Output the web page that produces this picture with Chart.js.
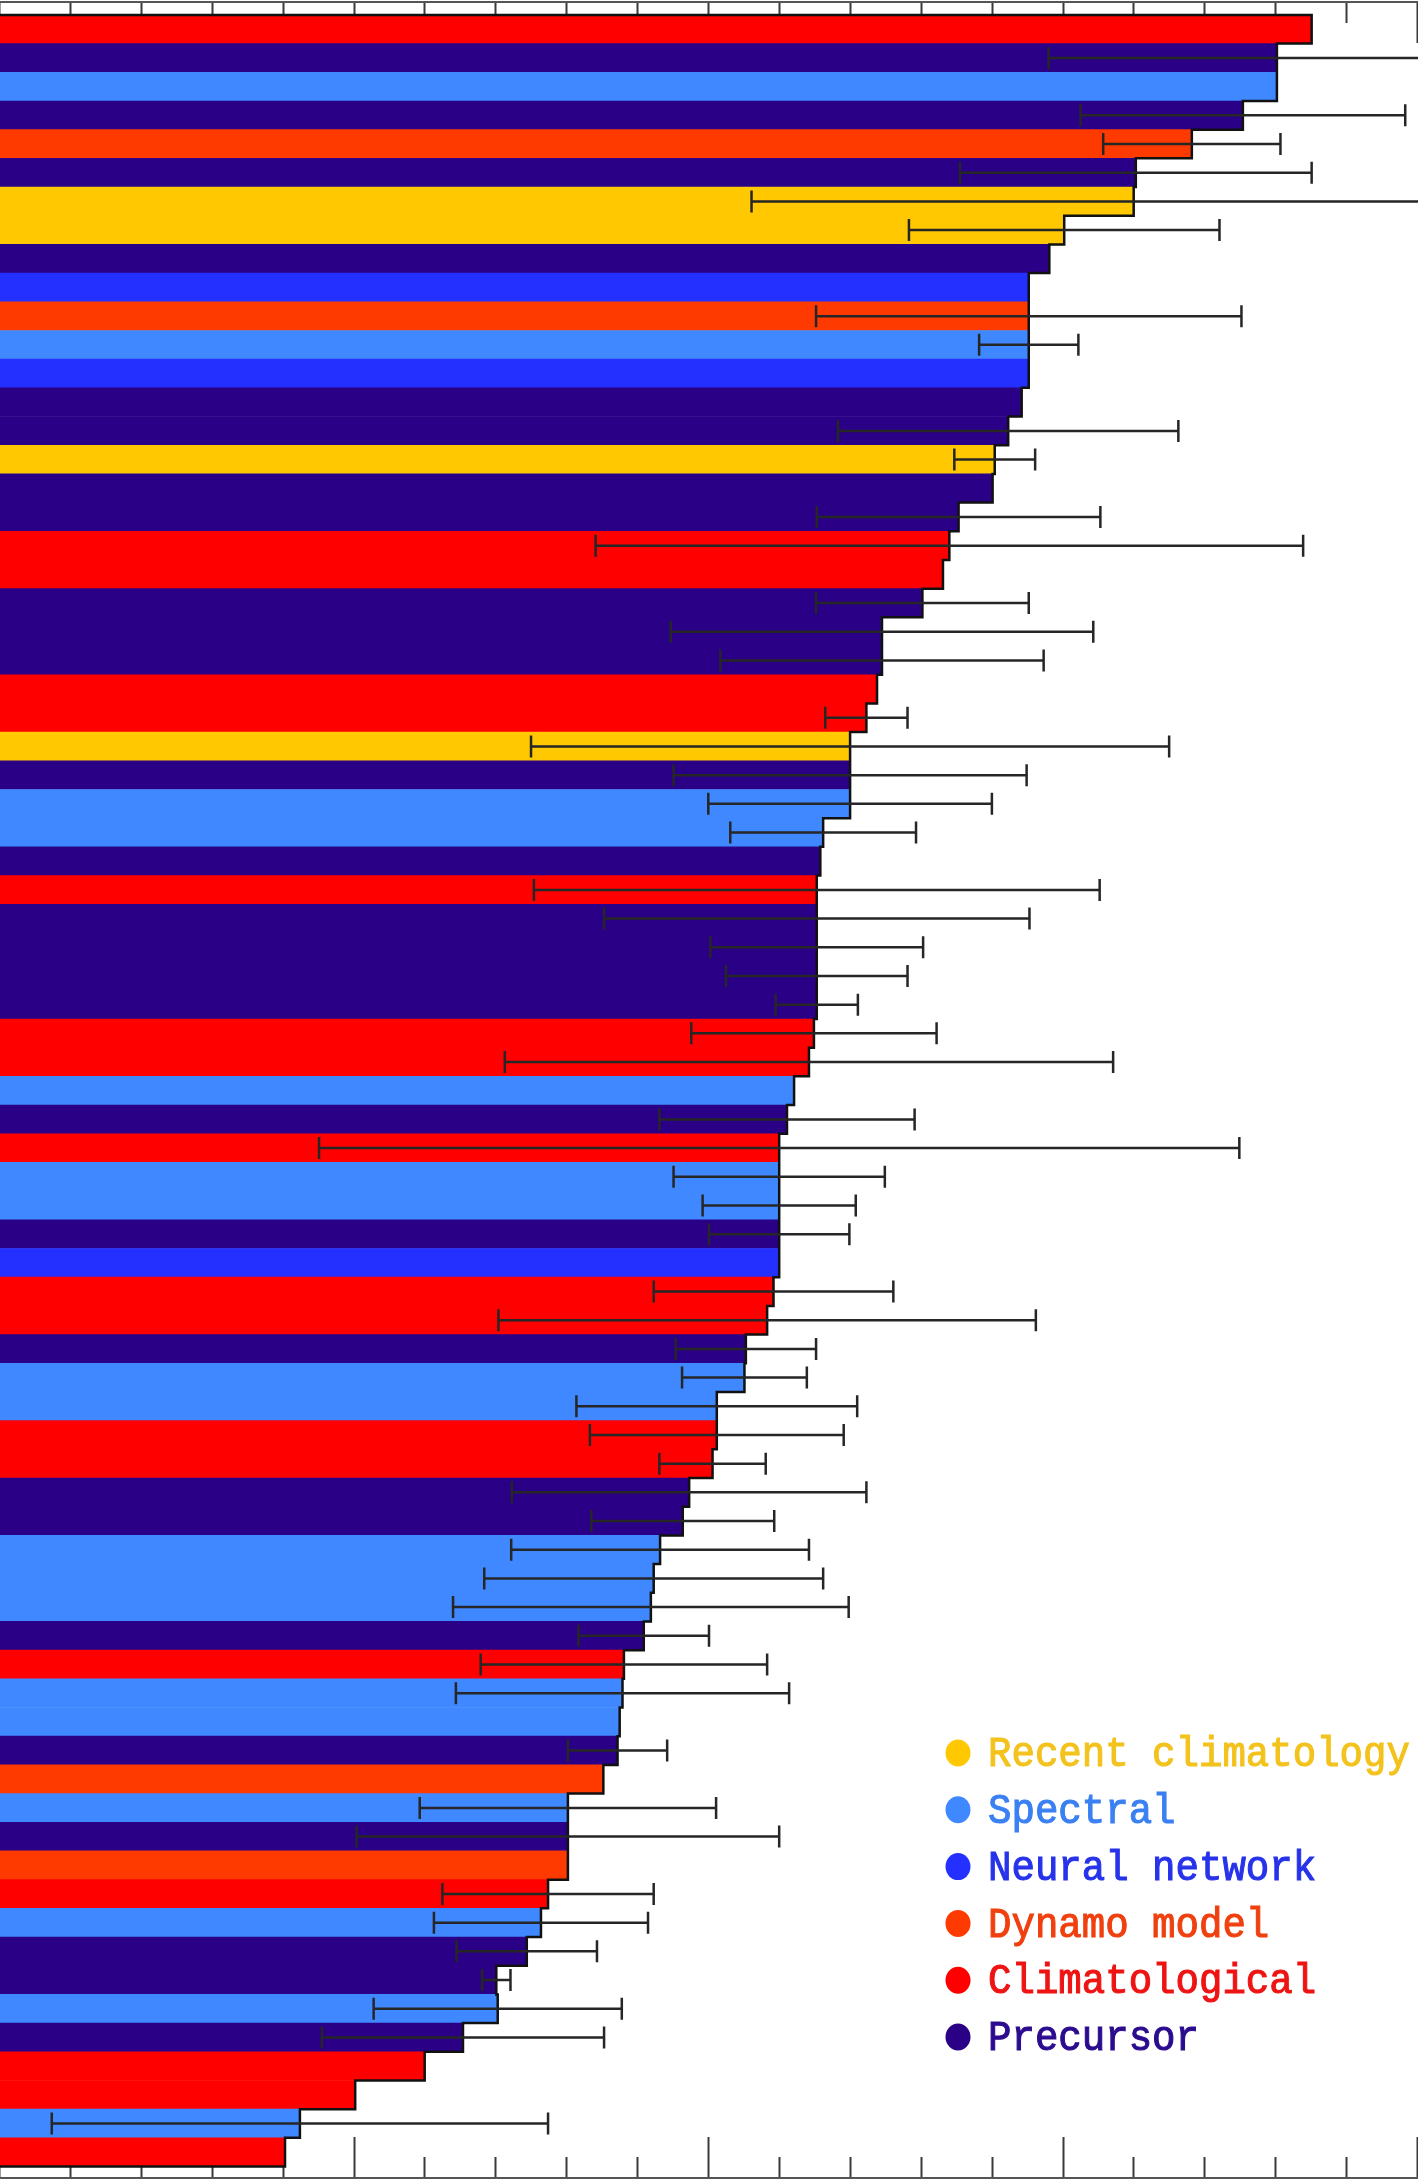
<!DOCTYPE html>
<html>
<head>
<meta charset="utf-8">
<script src="https://cdn.jsdelivr.net/npm/chart.js@4.4.1/dist/chart.umd.min.js"></script>
<style>
  html, body { margin: 0; padding: 0; background: #ffffff; }
  #wrap { width: 1418px; height: 2182px; position: relative; }
  canvas { display: block; }
</style>
</head>
<body>
<div id="wrap"><canvas id="chart" width="1418" height="2182"></canvas></div>
<script>
// ---------------- DATA ----------------
const methodNames = ['Recent climatology', 'Spectral', 'Neural network', 'Dynamo model', 'Climatological', 'Precursor'];

const barMethods = [
  'Climatological', 'Precursor', 'Spectral', 'Precursor', 'Dynamo model',
  'Precursor', 'Recent climatology', 'Recent climatology', 'Precursor', 'Neural network',
  'Dynamo model', 'Spectral', 'Neural network', 'Precursor', 'Precursor',
  'Recent climatology', 'Precursor', 'Precursor', 'Climatological', 'Climatological',
  'Precursor', 'Precursor', 'Precursor', 'Climatological', 'Climatological',
  'Recent climatology', 'Precursor', 'Spectral', 'Spectral', 'Precursor',
  'Climatological', 'Precursor', 'Precursor', 'Precursor', 'Precursor',
  'Climatological', 'Climatological', 'Spectral', 'Precursor', 'Climatological',
  'Spectral', 'Spectral', 'Precursor', 'Neural network', 'Climatological',
  'Climatological', 'Precursor', 'Spectral', 'Spectral', 'Climatological',
  'Climatological', 'Precursor', 'Precursor', 'Spectral', 'Spectral',
  'Spectral', 'Precursor', 'Climatological', 'Spectral', 'Spectral',
  'Precursor', 'Dynamo model', 'Spectral', 'Precursor', 'Dynamo model',
  'Climatological', 'Spectral', 'Precursor', 'Precursor', 'Spectral',
  'Precursor', 'Climatological', 'Climatological', 'Spectral', 'Climatological'
];

const barValues = [
  185.0, 180.1, 180.1, 175.3, 168.1,
  160.2, 159.9, 150.1, 148.0, 145.1,
  145.1, 145.1, 145.1, 144.1, 142.2,
  140.3, 140.0, 135.2, 133.9, 133.0,
  130.1, 124.4, 124.4, 123.7, 122.2,
  119.9, 119.9, 119.9, 116.1, 115.7,
  115.2, 115.2, 115.2, 115.2, 115.2,
  114.8, 114.1, 112.0, 111.0, 109.9,
  109.9, 109.9, 109.9, 109.9, 109.1,
  108.2, 105.2, 105.0, 101.1, 101.1,
  100.5, 97.2, 96.3, 93.1, 92.2,
  91.8, 90.8, 88.0, 87.8, 87.4,
  87.1, 85.1, 80.1, 80.1, 80.1,
  77.3, 76.3, 74.3, 70.0, 70.2,
  65.3, 59.9, 50.1, 42.3, 40.2
];

// symmetric error half-widths (null = no error bar)
const barErrors = [
  null, 32.2, null, 22.9, 12.5,
  24.8, 53.9, 21.9, null, null,
  30.0, 7.0, null, null, 24.0,
  5.7, null, 20.0, 49.9, null,
  15.0, 29.8, 22.8, null, 5.8,
  45.0, 24.9, 20.0, 13.1, null,
  39.9, 30.0, 15.0, 12.8, 5.8,
  17.3, 42.9, null, 18.0, 64.9,
  14.9, 10.8, 9.9, null, 16.9,
  37.9, 9.9, 8.8, 19.8, 17.9,
  7.5, 25.0, 12.9, 21.0, 23.9,
  27.9, 9.2, 20.2, 23.5, null,
  7.0, null, 20.9, 29.8, null,
  14.9, 15.1, 9.9, 2.0, 17.5,
  19.9, null, null, 35.0, null
];

const tickValues = [0, 10, 20, 30, 40, 50, 60, 70, 80, 90, 100, 110, 120, 130, 140, 150, 160, 170, 180, 190, 200];
const majorTickValues = [0, 50, 100, 150, 200];

// ---------------- STYLES ----------------
const barColorOf = {
  'Recent climatology': '#ffc800',
  'Spectral': '#4088ff',
  'Neural network': '#2430ff',
  'Dynamo model': '#ff3a00',
  'Climatological': '#ff0000',
  'Precursor': '#2a0086'
};
const legendTextColorOf = {
  'Recent climatology': '#f3c21c',
  'Spectral': '#3b80f2',
  'Neural network': '#2733ea',
  'Dynamo model': '#f0400f',
  'Climatological': '#ee1414',
  'Precursor': '#2b0b8e'
};

// ---------------- DERIVED DATASETS ----------------
const barPoints = barValues.map((v, i) => ({ x: v, y: i + 1 }));
const outlinePoints = [{ x: 0, y: 0.5 }];
barValues.forEach((v, i) => {
  outlinePoints.push({ x: v, y: i + 0.5 });
  outlinePoints.push({ x: v, y: i + 1.5 });
});
outlinePoints.push({ x: 0, y: barValues.length + 0.5 });

// ---------------- PLUGINS ----------------
const axesPlugin = {
  id: 'inwardAxes',
  beforeDatasetsDraw(chart) {
    const { ctx, chartArea, scales } = chart;
    const xs = scales.x;
    ctx.save();
    ctx.strokeStyle = '#3a3a3a';
    ctx.lineWidth = 2;
    tickValues.forEach(t => {
      const px = Math.round(xs.getPixelForValue(t)) - 0.5;
      const len = majorTickValues.includes(t) ? 41 : 21;
      ctx.beginPath();
      ctx.moveTo(px, chartArea.top);
      ctx.lineTo(px, chartArea.top + len);
      ctx.moveTo(px, chartArea.bottom);
      ctx.lineTo(px, chartArea.bottom - len);
      ctx.stroke();
    });
    ctx.strokeStyle = '#555555';
    ctx.lineWidth = 2;
    ctx.beginPath();
    ctx.moveTo(chartArea.left, chartArea.top);
    ctx.lineTo(chartArea.right, chartArea.top);
    ctx.moveTo(chartArea.left, chartArea.bottom);
    ctx.lineTo(chartArea.right, chartArea.bottom);
    ctx.stroke();
    ctx.restore();
  }
};

const errorBarPlugin = {
  id: 'errorBars',
  afterDatasetsDraw(chart) {
    const { ctx, chartArea, scales } = chart;
    const xs = scales.x, ys = scales.y;
    ctx.save();
    ctx.beginPath();
    ctx.rect(chartArea.left, chartArea.top, chartArea.right - chartArea.left, chartArea.bottom - chartArea.top);
    ctx.clip();
    ctx.strokeStyle = '#262626';
    ctx.lineWidth = 2.5;
    barValues.forEach((v, i) => {
      const e = barErrors[i];
      if (e === null) return;
      const x1 = xs.getPixelForValue(v - e);
      const x2 = xs.getPixelForValue(v + e);
      const y = ys.getPixelForValue(i + 1);
      const cap = 11;
      ctx.beginPath();
      ctx.moveTo(x1, y);
      ctx.lineTo(x2, y);
      ctx.moveTo(x1, y - cap);
      ctx.lineTo(x1, y + cap);
      ctx.moveTo(x2, y - cap);
      ctx.lineTo(x2, y + cap);
      ctx.stroke();
    });
    ctx.restore();
  }
};

const methodLegendPlugin = {
  id: 'methodLegend',
  afterDraw(chart) {
    const { ctx } = chart;
    const dotX = 958, textX = 988, firstY = 1753, rowStep = 56.8;
    ctx.save();
    ctx.font = '42px "Liberation Mono", "DejaVu Sans Mono", monospace';
    ctx.textBaseline = 'middle';
    ctx.textAlign = 'left';
    methodNames.forEach((name, i) => {
      const y = firstY + i * rowStep;
      ctx.fillStyle = barColorOf[name];
      ctx.beginPath();
      ctx.ellipse(dotX, y, 12.5, 13.5, 0, 0, Math.PI * 2);
      ctx.fill();
      ctx.save();
      ctx.translate(textX, y + 2);
      ctx.scale(0.93, 1);
      ctx.fillStyle = legendTextColorOf[name];
      ctx.strokeStyle = legendTextColorOf[name];
      ctx.lineWidth = 1.1;
      ctx.fillText(name, 0, 0);
      ctx.strokeText(name, 0, 0);
      ctx.restore();
    });
    ctx.restore();
  }
};

// ---------------- CHART ----------------
new Chart(document.getElementById('chart'), {
  type: 'bar',
  data: {
    datasets: [
      {
        type: 'line',
        label: 'outline',
        data: outlinePoints,
        borderColor: '#111111',
        borderWidth: 2.5,
        pointRadius: 0,
        fill: false,
        tension: 0,
        borderJoinStyle: 'miter',
        order: 0
      },
      {
        type: 'bar',
        label: 'predictions',
        data: barPoints,
        backgroundColor: barMethods.map(m => barColorOf[m]),
        borderWidth: 0,
        barPercentage: 1.0,
        categoryPercentage: 1.0,
        order: 1
      }
    ]
  },
  options: {
    indexAxis: 'y',
    responsive: false,
    animation: false,
    events: [],
    devicePixelRatio: 1,
    layout: { padding: { top: 2, bottom: 4, left: 0, right: 0 } },
    scales: {
      x: { type: 'linear', min: 0, max: 200, offset: false, display: false },
      y: { type: 'linear', min: 0.05, max: 75.9, reverse: true, offset: false, display: false }
    },
    plugins: {
      legend: { display: false },
      tooltip: { enabled: false },
      title: { display: false }
    }
  },
  plugins: [axesPlugin, errorBarPlugin, methodLegendPlugin]
});
</script>
</body>
</html>
